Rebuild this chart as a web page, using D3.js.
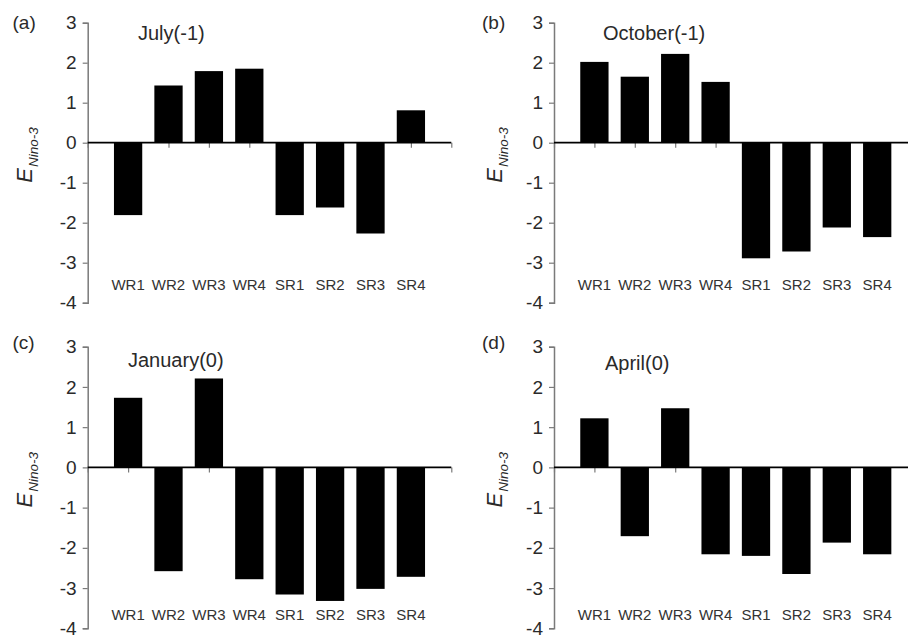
<!DOCTYPE html>
<html>
<head>
<meta charset="utf-8">
<script src="https://cdn.jsdelivr.net/npm/d3@7/dist/d3.min.js"></script>
<style>
  html, body { margin: 0; padding: 0; background: #fff; }
  svg { display: block; }
  text { font-family: "Liberation Sans", Arial, sans-serif; }
</style>
</head>
<body>
<svg id="chart" width="908" height="635"></svg>
<script>
// Regions on the category axis
const categories = ["WR1", "WR2", "WR3", "WR4", "SR1", "SR2", "SR3", "SR4"];

// E(Nino-3) per region for each lead month
const julyValues    = [-1.81, 1.43, 1.79, 1.85, -1.81, -1.62, -2.27, 0.81];
const octoberValues = [2.02, 1.65, 2.22, 1.52, -2.89, -2.72, -2.12, -2.36];
const januaryValues = [1.73, -2.58, 2.21, -2.78, -3.16, -3.32, -3.02, -2.72];
const aprilValues   = [1.22, -1.71, 1.47, -2.16, -2.20, -2.65, -1.87, -2.16];

const panelTags   = ["(a)", "(b)", "(c)", "(d)"];
const panelTitles = ["July(-1)", "October(-1)", "January(0)", "April(0)"];
const yTicks = [3, 2, 1, 0, -1, -2, -3, -4];

const seriesList = [julyValues, octoberValues, januaryValues, aprilValues];

// Panel frames: y-axis position, vertical extent of the value axis, text anchors
const frames = [
  { ox: 87.7, top: 22.7,  bot: 302.7, catY: 289.5, tagX: 12.5, tagY: 29,  titleX: 138, titleY: 40,  labDx: 56 },
  { ox: 554,  top: 22.7,  bot: 302.7, catY: 289.5, tagX: 482,  tagY: 29,  titleX: 603, titleY: 40,  labDx: 52 },
  { ox: 87.7, top: 346.7, bot: 628.3, catY: 620,   tagX: 12.5, tagY: 349, titleX: 128, titleY: 366.5, labDx: 56 },
  { ox: 554,  top: 346.7, bot: 628.3, catY: 620,   tagX: 482,  tagY: 349, titleX: 605, titleY: 370, labDx: 52 }
];

const svg = d3.select("#chart");
const step = 40.4;
const textColor = "#2a2a2a";
const axisColor = "#7a7a7a";

frames.forEach((f, p) => {
  const values = seriesList[p];
  const g = svg.append("g");

  // Categories sit at 1..8 on a 0..9 axis
  const x = d3.scaleLinear().domain([0, 9]).range([f.ox, f.ox + 9 * step]);
  const y = d3.scaleLinear().domain([-4, 3]).range([f.bot, f.top]);
  const barW = step * 0.7;

  // Value axis
  const yAxis = d3.axisLeft(y).tickValues(yTicks).tickSize(5).tickPadding(6)
    .tickFormat(d => (d < 0 ? "-" + Math.abs(d) : String(d)));
  const ya = g.append("g").attr("transform", `translate(${f.ox},0)`).call(yAxis);
  ya.select(".domain").attr("stroke", axisColor).attr("stroke-width", 1.5);
  ya.selectAll(".tick line").attr("stroke", axisColor).attr("stroke-width", 1.2);
  ya.selectAll(".tick text")
    .attr("fill", textColor)
    .style("font-size", "19px")
    .style("font-family", "'Liberation Sans', Arial, sans-serif");

  // Category axis along zero, ticks pointing down
  const xAxis = d3.axisBottom(x).tickValues(d3.range(0, 10)).tickSize(5).tickFormat("");
  const xa = g.append("g").attr("transform", `translate(0,${y(0)})`).call(xAxis);
  xa.select(".domain").attr("stroke", "none");
  xa.selectAll(".tick line").attr("stroke", axisColor).attr("stroke-width", 1.2);

  // Bars
  g.selectAll("rect.bar").data(values).enter().append("rect")
    .attr("class", "bar")
    .attr("x", (d, i) => x(i + 1) - barW / 2)
    .attr("width", barW)
    .attr("y", d => y(Math.max(0, d)))
    .attr("height", d => Math.abs(y(d) - y(0)))
    .attr("fill", "#000");

  // Zero line
  g.append("line")
    .attr("x1", x(0)).attr("x2", x(9))
    .attr("y1", y(0)).attr("y2", y(0))
    .attr("stroke", "#000").attr("stroke-width", 1.8);

  // Category labels
  g.selectAll("text.cat").data(categories).enter().append("text")
    .attr("class", "cat")
    .attr("x", (d, i) => x(i + 1))
    .attr("y", f.catY)
    .attr("text-anchor", "middle")
    .attr("fill", "#333")
    .style("font-size", "15px")
    .text(d => d);

  // Panel tag and month title
  g.append("text").attr("x", f.tagX).attr("y", f.tagY)
    .attr("fill", textColor).style("font-size", "19px").text(panelTags[p]);
  g.append("text").attr("x", f.titleX).attr("y", f.titleY)
    .attr("fill", textColor).style("font-size", "20px").text(panelTitles[p]);

  // Rotated axis title E with subscript Nino-3
  const lab = g.append("text")
    .attr("transform", `translate(${f.ox - f.labDx},${y(0) + 40}) rotate(-90)`)
    .attr("fill", textColor)
    .style("font-style", "italic");
  lab.append("tspan").style("font-size", "22px").text("E");
  lab.append("tspan").attr("dy", 6).attr("dx", 1).style("font-size", "13.5px").text("Nino-3");
});
</script>
</body>
</html>
